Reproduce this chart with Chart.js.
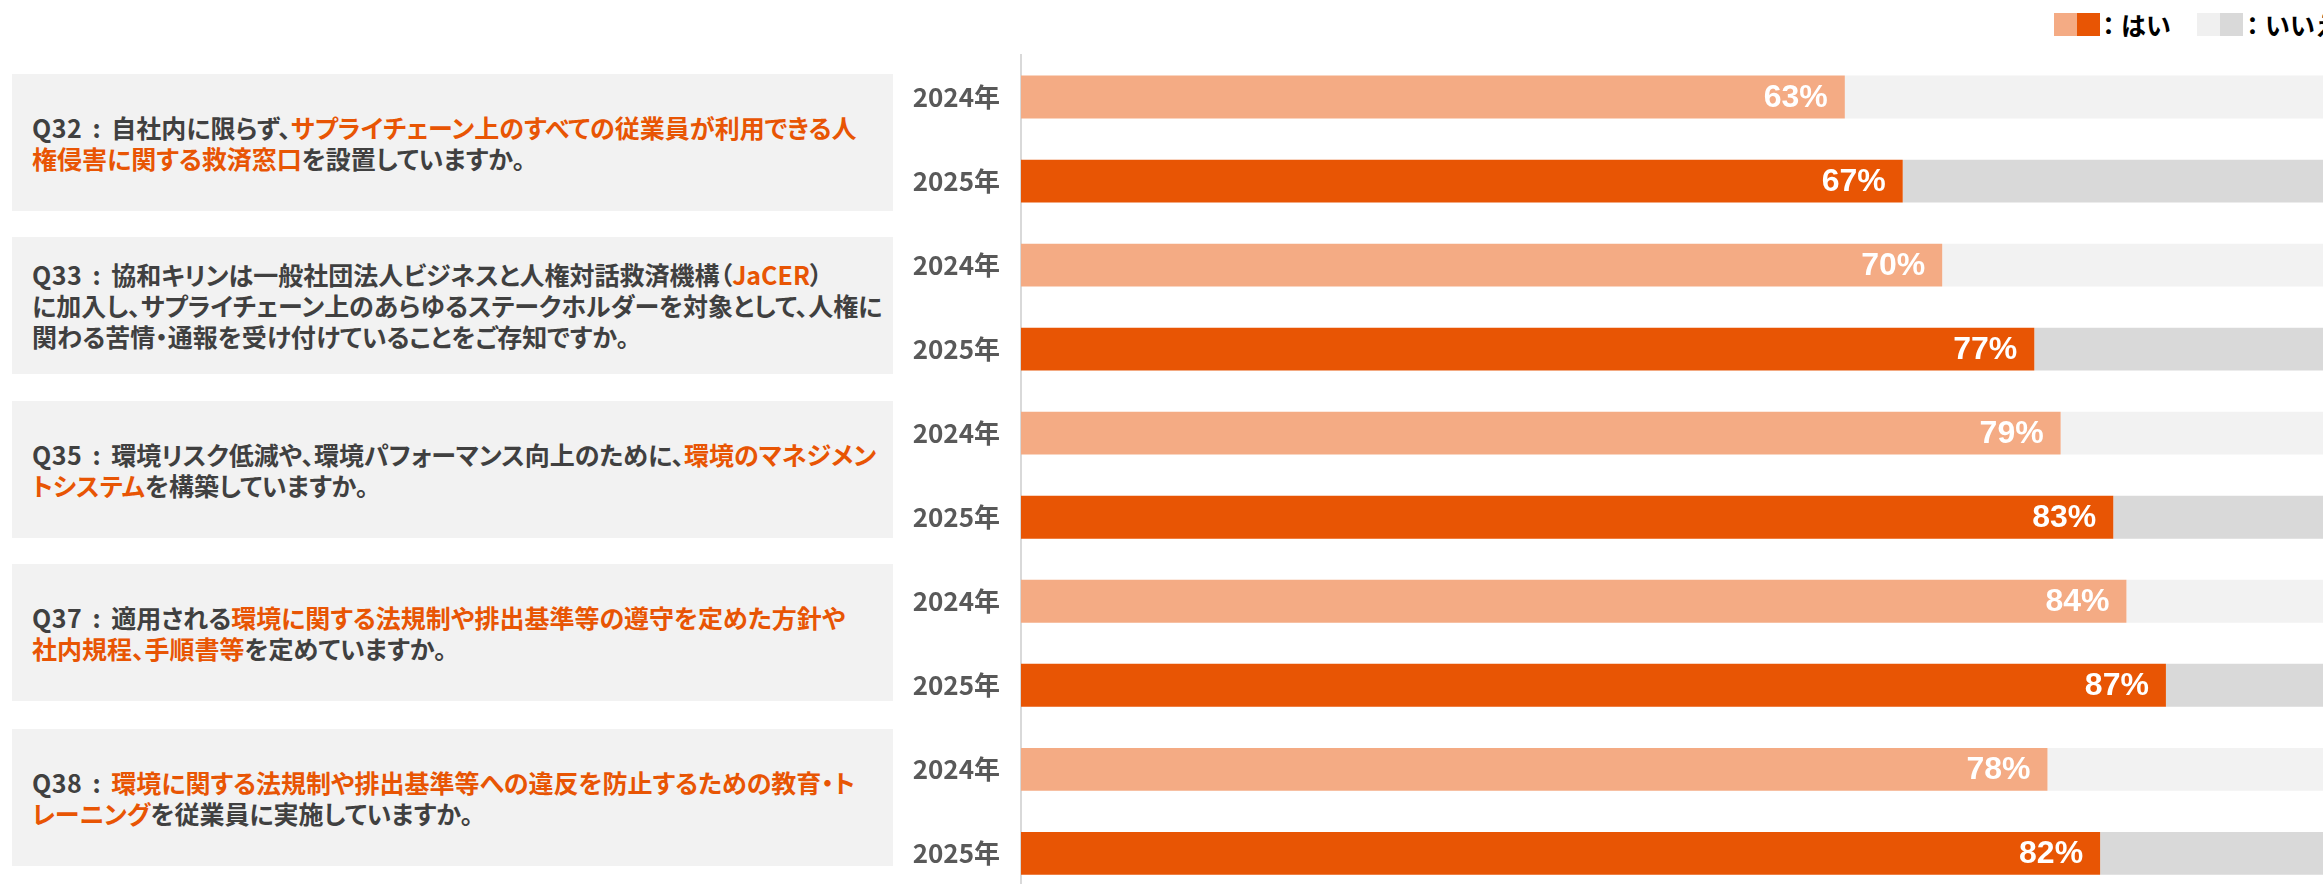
<!DOCTYPE html>
<html lang="ja">
<head>
<meta charset="utf-8">
<title>サプライヤー調査 結果</title>
<script src="https://cdn.jsdelivr.net/npm/chart.js@4.4.1/dist/chart.umd.min.js"></script>
<style>
    html, body { margin: 0; padding: 0; background: #fff; overflow: hidden; }
    #wrap { position: relative; width: 2323px; height: 884px; overflow: hidden; font-family: "Noto Sans CJK JP", "Noto Sans", sans-serif; }
    .qbox {
        position: absolute; left: 12px; width: 881px; height: 137px;
        background: #f2f2f2; display: flex; align-items: center;
        box-sizing: border-box; padding-left: 20px;
    }
    .qtext { font-size: 25px; font-weight: bold; line-height: 31px; color: #404040; white-space: pre; font-feature-settings: "palt"; }
    .qtext .qid { word-spacing: 4px; letter-spacing: 0.5px; }
    .qtext .hl { color: #e85504; }
    .legend { position: absolute; top: 13px; height: 23px; display: flex; align-items: center; white-space: nowrap; }
    .sw { width: 23px; height: 23px; }
    .legend span { font-size: 25px; font-weight: bold; color: #000; line-height: 23px; }
    #chartBox { position: absolute; left: 890px; top: 0; }
</style>
</head>
<body>
<div id="wrap">
    <div id="questions"></div>
    <div class="legend" style="left:2054px">
        <div class="sw" style="background:#f4ab84"></div><div class="sw" style="background:#e85504"></div>
        <span style="margin-left:-4px">：はい</span>
    </div>
    <div class="legend" style="left:2197px">
        <div class="sw" style="background:#f0f0f0"></div><div class="sw" style="background:#d9d9d9"></div>
        <span style="margin-left:-3px">：いいえ</span>
    </div>
    <div id="chartBox"><canvas id="surveyChart" width="1447" height="932"></canvas></div>
</div>

<script>
// Data (bar lengths; labels show rounded %)
const years = ['2024年', '2025年'];
const questionIds = ['Q32', 'Q33', 'Q35', 'Q37', 'Q38'];
const yes2024 = [62.6, 70, 79, 84, 78];
const yes2025 = [67, 77, 83, 87, 82];
const no2024 = [37.4, 30, 21, 16, 22];
const no2025 = [33, 23, 17, 13, 18];

// Question texts: [text, highlighted?]  ("\n" = line break as in the original)
const questionTexts = [
    [['自社内に限らず、', false], ['サプライチェーン上のすべての従業員が利用できる人\n権侵害に関する救済窓口', true], ['を設置していますか。', false]],
    [['協和キリンは一般社団法人ビジネスと人権対話救済機構（', false], ['JaCER', true], ['）\nに加入し、サプライチェーン上のあらゆるステークホルダーを対象として、人権に\n関わる苦情・通報を受け付けていることをご存知ですか。', false]],
    [['環境リスク低減や、環境パフォーマンス向上のために、', false], ['環境のマネジメン\nトシステム', true], ['を構築していますか。', false]],
    [['適用される', false], ['環境に関する法規制や排出基準等の遵守を定めた方針や\n社内規程、手順書等', true], ['を定めていますか。', false]],
    [['', false], ['環境に関する法規制や排出基準等への違反を防止するための教育・ト\nレーニング', true], ['を従業員に実施していますか。', false]]
];
const boxTops = [74, 237, 401, 564, 729];

// Colors
const yesColors = ['#f4ab84', '#e85504'];
const noColors = ['#f2f2f2', '#d9d9d9'];

document.addEventListener('DOMContentLoaded', function() {
    // 1. Question boxes on the left
    const qWrap = document.getElementById('questions');
    questionTexts.forEach((parts, i) => {
        const box = document.createElement('div');
        box.className = 'qbox';
        box.style.top = boxTops[i] + 'px';
        const txt = document.createElement('div');
        txt.className = 'qtext';
        const qid = document.createElement('span');
        qid.className = 'qid';
        qid.textContent = questionIds[i] + ' : ';
        txt.appendChild(qid);
        parts.forEach(([t, hl]) => {
            t.split('\n').forEach((piece, k) => {
                if (k > 0) txt.appendChild(document.createElement('br'));
                const s = document.createElement('span');
                if (hl) s.className = 'hl';
                s.textContent = piece;
                txt.appendChild(s);
            });
        });
        box.appendChild(txt);
        qWrap.appendChild(box);
    });

    // 2. Build bar rows (2024 / 2025 for each question)
    const labels = [];
    const yesData = [], noData = [], yesBg = [], noBg = [];
    questionIds.forEach((q, i) => {
        labels.push(years[0], years[1]);
        yesData.push(yes2024[i], yes2025[i]);
        noData.push(no2024[i], no2025[i]);
        yesBg.push(yesColors[0], yesColors[1]);
        noBg.push(noColors[0], noColors[1]);
    });

    // white % labels at the end of each orange bar
    const valueLabels = {
        id: 'valueLabels',
        afterDatasetsDraw(chart) {
            const ctx = chart.ctx;
            const meta = chart.getDatasetMeta(0);
            ctx.save();
            ctx.fillStyle = '#ffffff';
            ctx.font = 'bold 32px "Liberation Sans", Arial, sans-serif';
            ctx.textAlign = 'right';
            ctx.textBaseline = 'middle';
            meta.data.forEach((bar, i) => {
                ctx.fillText(Math.round(yesData[i]) + '%', bar.x - 17, bar.y + 1);
            });
            ctx.restore();
        }
    };

    const ctx = document.getElementById('surveyChart').getContext('2d');
    new Chart(ctx, {
        type: 'bar',
        data: {
            labels: labels,
            datasets: [
                { label: 'はい', data: yesData, backgroundColor: yesBg, barPercentage: 0.51, categoryPercentage: 1 },
                { label: 'いいえ', data: noData, backgroundColor: noBg, barPercentage: 0.51, categoryPercentage: 1 }
            ]
        },
        options: {
            indexAxis: 'y',
            responsive: false,
            animation: false,
            layout: { padding: { top: 55, bottom: 5, left: 0, right: 0 } },
            scales: {
                x: { stacked: true, min: 0, max: 100, display: false },
                y: {
                    stacked: true,
                    grid: { display: false, drawTicks: false },
                    border: { display: true, color: '#d9d9d9', width: 2 },
                    ticks: {
                        padding: 21,
                        color: '#595959',
                        font: { family: '"Noto Sans CJK JP", sans-serif', size: 26, weight: 'bold' }
                    },
                    afterFit: function(scale) { scale.width = 131; }
                }
            },
            plugins: {
                legend: { display: false },
                tooltip: { enabled: false }
            }
        },
        plugins: [valueLabels]
    });
});
</script>
</body>
</html>
